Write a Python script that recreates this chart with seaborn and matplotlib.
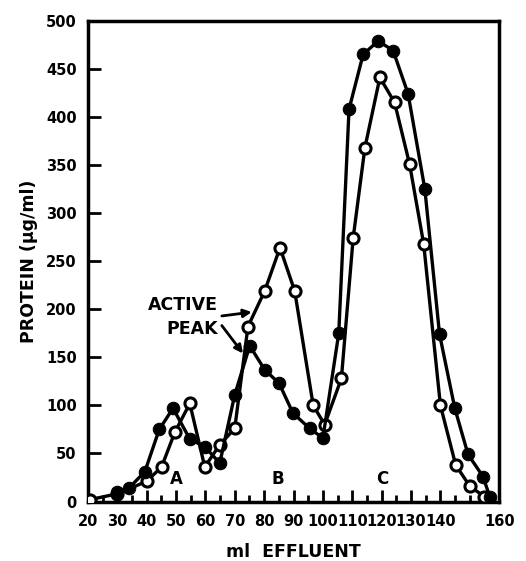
import matplotlib
matplotlib.use("Agg")
import matplotlib.pyplot as plt
import seaborn as sns
import pandas as pd
from matplotlib.ticker import MultipleLocator

# Filled-circle series
ml_filled = [30, 34, 39.4, 44.3, 49, 54.7, 59.8, 64.9, 70, 75.1, 80.2, 85.1, 89.8,
             95.5, 100, 105.4, 108.9, 113.7, 118.8, 123.9, 129, 134.7, 139.7, 144.9,
             149.4, 154.5, 156.8]
protein_filled = [10, 14, 31, 75, 97, 65, 57, 40, 111, 162, 137, 123, 92,
                  76, 66, 175, 408, 465, 479, 469, 424, 325, 174, 97,
                  49, 26, 5]

# Open-circle series
ml_open = [20.7, 30, 40, 45.1, 49.6, 54.7, 59.8, 64.9, 70, 74.5, 80.2, 85.4, 90.4,
           96.7, 100.6, 106.3, 110.3, 114.3, 119.4, 124.4, 129.5, 134.3, 140, 145.2,
           150, 155]
protein_open = [2, 8, 21, 36, 72, 102, 36, 59, 76, 182, 219, 264, 219,
                100, 80, 128, 274, 368, 441, 415, 351, 268, 100, 38,
                16, 5]

x_ticks = [20, 30, 40, 50, 60, 70, 80, 90, 100, 110, 120, 130, 140, 160]
y_ticks = [0, 50, 100, 150, 200, 250, 300, 350, 400, 450, 500]
peak_labels = ["A", "B", "C"]
peak_pos = [50.2, 84.5, 120.3]

sns.set_theme(style="white")
plt.rcParams['font.family'] = ['DejaVu Sans']
plt.rcParams['text.color'] = 'black'
plt.rcParams['axes.labelcolor'] = 'black'
plt.rcParams['xtick.color'] = 'black'
plt.rcParams['ytick.color'] = 'black'

fig = plt.figure(figsize=(5.26, 5.61), dpi=100)
ax = fig.add_axes([0.167, 0.106, 0.782, 0.857])

df_f = pd.DataFrame({"ml": ml_filled, "p": protein_filled})
df_o = pd.DataFrame({"ml": ml_open, "p": protein_open})

sns.lineplot(data=df_o, x="ml", y="p", sort=False, ax=ax, color="black", lw=2.4,
             marker="o", markersize=8, markerfacecolor="white",
             markeredgecolor="black", markeredgewidth=2.2, zorder=3)
sns.lineplot(data=df_f, x="ml", y="p", sort=False, ax=ax, color="black", lw=2.4,
             marker="o", markersize=9, markerfacecolor="black",
             markeredgecolor="black", zorder=4)

ax.set_xlim(20, 160)
ax.set_ylim(0, 500)
ax.set_xticks(x_ticks)
ax.set_xticklabels([str(t) for t in x_ticks])
ax.xaxis.set_minor_locator(MultipleLocator(5))
ax.set_yticks(y_ticks)
ax.set_yticklabels([str(t) for t in y_ticks])

ax.tick_params(axis="x", which="major", direction="in", length=9, width=2,
               labelsize=10.5, pad=9, bottom=True, colors="black")
ax.tick_params(axis="x", which="minor", direction="in", length=5, width=2,
               bottom=True, colors="black")
ax.tick_params(axis="y", which="major", direction="in", length=9, width=2,
               labelsize=10.5, pad=8, left=True, colors="black")
for lab in ax.get_xticklabels() + ax.get_yticklabels():
    lab.set_fontweight("heavy")
    lab.set_color("black")

for s in ax.spines.values():
    s.set_visible(True)
    s.set_color("black")
    s.set_linewidth(2.5)

ax.set_xlabel("ml  EFFLUENT", fontsize=12.5, fontweight="bold", labelpad=10,
              color="black")
ax.set_ylabel("PROTEIN (\u03bcg/ml)", fontsize=12.5, fontweight="heavy", labelpad=6,
              color="black")

for lab, pos in zip(peak_labels, peak_pos):
    ax.text(pos, 23, lab, ha="center", va="center", fontsize=12,
            fontweight="heavy", color="black")

ax.text(64.4, 204, "ACTIVE", ha="right", va="center", fontsize=12.5,
        fontweight="heavy", color="black")
ax.text(64.4, 179, "PEAK", ha="right", va="center", fontsize=12.5,
        fontweight="heavy", color="black")
ax.annotate("", xy=(75.8, 197), xytext=(65.6, 193),
            arrowprops=dict(arrowstyle="-|>", color="black", lw=2,
                            mutation_scale=12, shrinkA=0, shrinkB=0))
ax.annotate("", xy=(72.8, 154), xytext=(65.6, 183),
            arrowprops=dict(arrowstyle="-|>", color="black", lw=2,
                            mutation_scale=12, shrinkA=0, shrinkB=0))

fig.savefig("out.png", dpi=100)
